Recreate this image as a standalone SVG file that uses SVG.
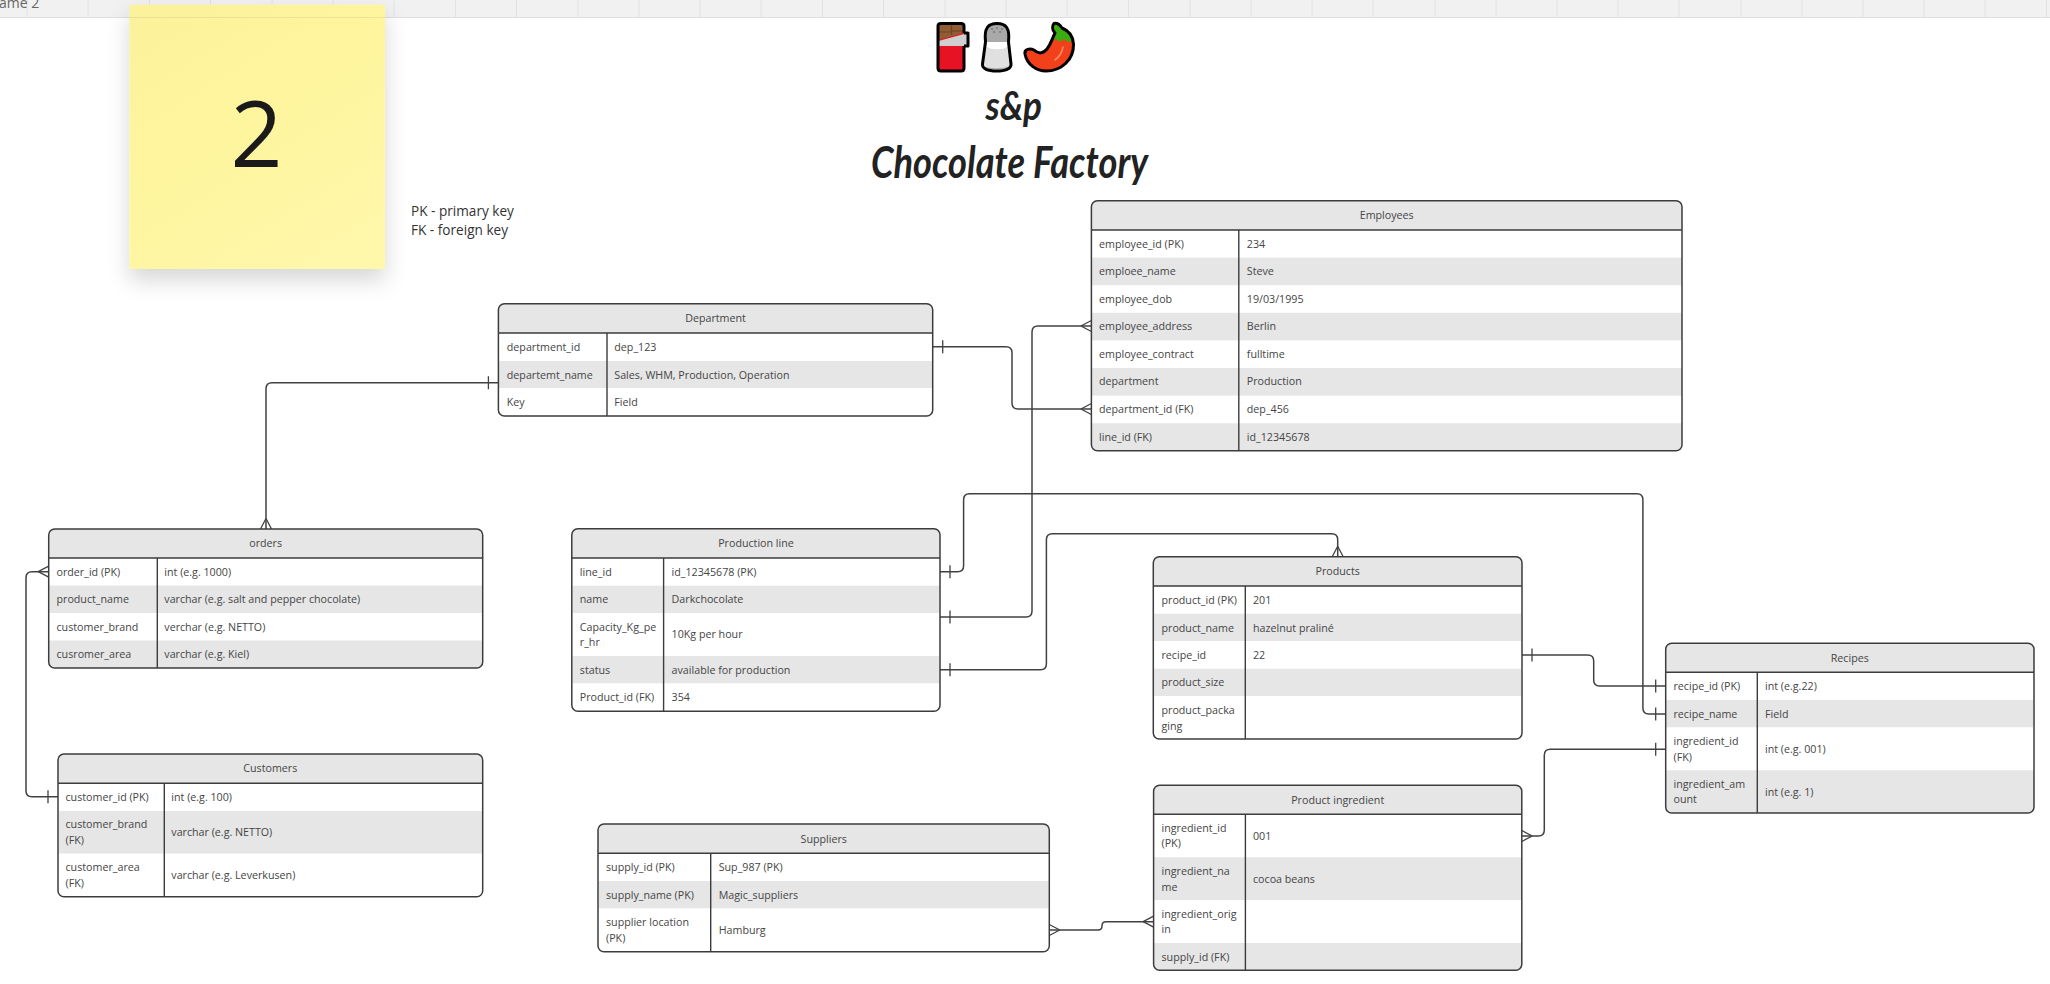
<svg xmlns="http://www.w3.org/2000/svg" width="2050" height="984" viewBox="0 0 2050 984">
<style>
text{font-family:"Open Sans","Noto Sans",sans-serif;font-size:10.7px;fill:#454545}
.h{text-anchor:middle}
.bd{fill:none;stroke:#3c3c3c;stroke-width:1.5}
.ln{stroke:#3c3c3c;stroke-width:1.4;fill:none}
.g{fill:#e6e6e6}
.c{fill:none;stroke:#414141;stroke-width:1.5}
.m{fill:none;stroke:#414141;stroke-width:1.3}
.grid{stroke:#e2e2e2;stroke-width:1}
.title{font-family:"Lato","Open Sans",sans-serif;font-style:italic;font-weight:700;fill:#222}
.k{stroke:#000;stroke-width:3;stroke-linejoin:round}
</style>
<defs>
<marker id="many" markerUnits="userSpaceOnUse" markerWidth="1" markerHeight="1" orient="auto-start-reverse" overflow="visible"><path class="m" d="M-10.5 0L0-5.5M-10.5 0L0 5.5"/></marker>
<marker id="one" markerUnits="userSpaceOnUse" markerWidth="1" markerHeight="1" orient="auto-start-reverse" overflow="visible"><path class="m" d="M-10-6.5V6.5"/></marker>
<linearGradient id="st" x1="0.2" y1="0" x2="0.8" y2="1"><stop offset="0" stop-color="#fcf29b"/><stop offset=".4" stop-color="#fff59e"/><stop offset="1" stop-color="#fff7aa"/></linearGradient>
<filter id="sh" x="-25%" y="-10%" width="150%" height="135%"><feDropShadow dx="0" dy="11" stdDeviation="11" flood-color="#000" flood-opacity=".16"/></filter>
</defs>
<rect width="2050" height="984" fill="#fff"/>
<g id="frame-bar">
<rect width="2050" height="17" fill="#f1f1f1"/>
<path class="grid" d="M27 0V17M88 0V17M149.500 0V17M210.500 0V17M272 0V17M333 0V17M394 0V17M455.500 0V17M516.500 0V17M578 0V17M639 0V17M700 0V17M761 0V17M822.500 0V17M883.500 0V17M945 0V17M1006 0V17M1067 0V17M1128.500 0V17M1190 0V17M1251 0V17M1312 0V17M1373 0V17M1435 0V17M1496 0V17M1557 0V17M1618 0V17M1679 0V17M1741 0V17M1802 0V17M1863 0V17M1924 0V17M1985 0V17M2046.500 0V17"/>
<path d="M0 17.500H2050" stroke="#dedede" stroke-width="1"/>
<text x="-1" y="8" style="font-size:14px;fill:#666">ame 2</text>
</g>
<g id="sticky">
<rect x="129.500" y="4.700" width="255.500" height="264.300" fill="url(#st)" filter="url(#sh)"/>
<path d="M129.500 17.500H385" stroke="#000" stroke-opacity=".07"/>
<text x="256.500" y="166.500" class="h" style="font-size:91px;fill:#1a1a1a">2</text>
</g>
<g id="legend">
<text x="411" y="216" style="font-size:13.6px;fill:#333">PK - primary key</text>
<text x="411" y="235" style="font-size:13.6px;fill:#333">FK - foreign key</text>
</g>
<g id="emoji">
<g id="emoji-chocolate">
<rect x="938" y="24" width="26" height="47" rx="3" fill="#e81225"/>
<path d="M938.500 24H963.500V33L938.500 40Z" fill="#915b34"/>
<path d="M951.500 24V35M938.500 32H951.500M951.500 31H963.500" stroke="#6e4225" stroke-width="1.200"/>
<path d="M938.500 41L966 33.500H968V46H938.500Z" fill="#cfcfcf"/>
<path d="M964 33H968V46H964M964 46V68Q964 71 961 71H941Q938 71 938 68V26Q938 23.500 941 23.500H961Q964 23.500 964 26V33" class="k" fill="none"/>
</g>
<g id="emoji-salt">
<path d="M985.500 42C984 28 988 23.500 997 23.500C1006 23.500 1010 28 1008.500 42L1011 64C1011.500 69 1005 71 996.500 71C988 71 982 69 982.500 64Z" fill="#e0e0e0"/>
<path d="M985.500 42C984 28 988 23.500 997 23.500C1006 23.500 1010 28 1008.500 42Z" fill="#a9a9a9"/>
<path d="M985.500 42H1008.500L1009 47H985Z" fill="#fff"/>
<ellipse cx="997" cy="46.500" rx="10" ry="2.800" fill="#fff"/>
<path d="M983 66C990 69 1003 69 1010 66L1010 69H984Z" fill="#a9a9a9"/>
<path d="M992 29h.1M997 28h.1M1002 29h.1M994 32h.1M1000 32h.1" stroke="#7c7c7c" stroke-width="2" stroke-linecap="round"/>
<path d="M985.500 42C984 28 988 23.500 997 23.500C1006 23.500 1010 28 1008.500 42L1011 64C1011.500 69 1005 71 996.500 71C988 71 982 69 982.500 64Z" class="k" fill="none"/>
</g>
<g id="emoji-chili">
<path d="M1054 23.500C1052 26 1052 30 1055 33C1052 39 1051 44 1047 49C1043 54 1038 54 1034 50C1030 48 1024 49 1025 54C1027 65 1037 71 1046 71C1061 71 1074 60 1073.500 44C1073 35 1067 30 1062 28C1060 25 1058 22.500 1054 23.500Z" fill="#f1401a"/>
<path d="M1054 23.500C1052 26 1052 30 1055 33C1053 36 1052.500 38 1052 41L1056 39L1060 42L1064 39L1068 42L1073 41C1071 34 1067 30 1062 28C1060 25 1058 22.500 1054 23.500Z" fill="#3bab12"/>
<path d="M1063 47C1062 53 1059 57 1055 60" stroke="#f78a6a" stroke-width="1.600" fill="none" stroke-linecap="round"/>
<path d="M1054 23.500C1052 26 1052 30 1055 33C1052 39 1051 44 1047 49C1043 54 1038 54 1034 50C1030 48 1024 49 1025 54C1027 65 1037 71 1046 71C1061 71 1074 60 1073.500 44C1073 35 1067 30 1062 28C1060 25 1058 22.500 1054 23.500Z" class="k" fill="none"/>
</g>
</g>
<g id="title">
<text x="985.500" y="120" class="title" style="font-size:40px" textLength="56.500" lengthAdjust="spacingAndGlyphs">s&amp;p</text>
<text x="871" y="178" class="title" style="font-size:44px" textLength="277" lengthAdjust="spacingAndGlyphs">Chocolate Factory</text>
</g>

<g id="connectors">
<path class="c" marker-start="url(#one)" marker-end="url(#many)" d="M498.400 382.700H272Q266 382.700 266 388.700V529"/>
<path class="c" marker-start="url(#one)" marker-end="url(#many)" d="M932.700 346.700H1006Q1012 346.700 1012 352.700V403Q1012 409 1018 409H1091.400"/>
<path class="c" marker-start="url(#one)" marker-end="url(#one)" d="M940 571.700H957.600Q963.600 571.700 963.600 565.700V499.700Q963.600 493.700 969.600 493.700H1636.900Q1642.900 493.700 1642.900 499.700V708Q1642.900 714 1648.900 714H1665.700"/>
<path class="c" marker-start="url(#one)" marker-end="url(#many)" d="M940 617H1026Q1032 617 1032 611V332Q1032 326 1038 326H1091.400"/>
<path class="c" marker-start="url(#one)" marker-end="url(#many)" d="M940 669.700H1040.400Q1046.400 669.700 1046.400 663.700V539.700Q1046.400 533.700 1052.400 533.700H1331.700Q1337.700 533.700 1337.700 539.700V556.700"/>
<path class="c" marker-start="url(#one)" marker-end="url(#one)" d="M1522 655H1587.700Q1593.700 655 1593.700 661V680Q1593.700 686 1599.700 686H1665.700"/>
<path class="c" marker-start="url(#many)" marker-end="url(#one)" d="M1521.800 836H1538.300Q1544.300 836 1544.300 830V755.300Q1544.300 749.300 1550.300 749.300H1665.700"/>
<path class="c" marker-start="url(#many)" marker-end="url(#many)" d="M1049.300 930H1098Q1102 930 1102 926V925.700Q1102 921.700 1106 921.700H1153.600"/>
<path class="c" marker-start="url(#one)" marker-end="url(#many)" d="M58 796.700H32Q26 796.700 26 790.700V577.700Q26 571.700 32 571.700H48.700"/>
</g>

<g id="department">
<path class="g" d="M498.400 333V309.700Q498.400 303.700 504.400 303.700H926.700Q932.700 303.700 932.700 309.700V333Z"/>
<rect class="g" x="499" y="361" width="433" height="27"/>
<rect class="bd" x="498.400" y="303.700" width="434.300" height="112.300" rx="6"/>
<path class="ln" d="M498.400 333H932.700M607 333V416"/>
<text class="h" x="715.500" y="322">Department</text>
<text x="506.800" y="351">department_id</text><text x="614.300" y="351">dep_123</text>
<text x="506.800" y="378.500">departemt_name</text><text x="614.300" y="378.500">Sales, WHM, Production, Operation</text>
<text x="506.800" y="406">Key</text><text x="614.300" y="406">Field</text>
</g>

<g id="employees">
<path class="g" d="M1091.400 230V206.700Q1091.400 200.700 1097.400 200.700H1676Q1682 200.700 1682 206.700V230Z"/>
<rect class="g" x="1092" y="257.600" width="590" height="27.600"/>
<rect class="g" x="1092" y="312.800" width="590" height="27.600"/>
<rect class="g" x="1092" y="368" width="590" height="27.600"/>
<path class="g" d="M1091.400 423.200H1682V444.700Q1682 450.700 1676 450.700H1097.400Q1091.400 450.700 1091.400 444.700Z"/>
<rect class="bd" x="1091.400" y="200.700" width="590.600" height="250" rx="6"/>
<path class="ln" d="M1091.400 230H1682M1238.800 230V450.700"/>
<text class="h" x="1386.700" y="219">Employees</text>
<text x="1099" y="248">employee_id (PK)</text><text x="1246.800" y="248">234</text>
<text x="1099" y="275.200">emploee_name</text><text x="1246.800" y="275.200">Steve</text>
<text x="1099" y="303">employee_dob</text><text x="1246.800" y="303">19/03/1995</text>
<text x="1099" y="330.200">employee_address</text><text x="1246.800" y="330.200">Berlin</text>
<text x="1099" y="358">employee_contract</text><text x="1246.800" y="358">fulltime</text>
<text x="1099" y="385.200">department</text><text x="1246.800" y="385.200">Production</text>
<text x="1099" y="413">department_id (FK)</text><text x="1246.800" y="413">dep_456</text>
<text x="1099" y="441">line_id (FK)</text><text x="1246.800" y="441">id_12345678</text>
</g>

<g id="orders">
<path class="g" d="M48.700 558V535Q48.700 529 54.700 529H476.700Q482.700 529 482.700 535V558Z"/>
<rect class="g" x="49.300" y="585.500" width="433" height="27.500"/>
<path class="g" d="M48.700 640.500H482.700V662Q482.700 668 476.700 668H54.700Q48.700 668 48.700 662Z"/>
<rect class="bd" x="48.700" y="529" width="434" height="139" rx="6"/>
<path class="ln" d="M48.700 558H482.700M157.300 558V668"/>
<text class="h" x="265.700" y="547">orders</text>
<text x="56.500" y="576">order_id (PK)</text><text x="164.300" y="576">int (e.g. 1000)</text>
<text x="56.500" y="603">product_name</text><text x="164.300" y="603">varchar (e.g. salt and pepper chocolate)</text>
<text x="56.500" y="631">customer_brand</text><text x="164.300" y="631">verchar (e.g. NETTO)</text>
<text x="56.500" y="658">cusromer_area</text><text x="164.300" y="658">varchar (e.g. Kiel)</text>
</g>

<g id="customers">
<path class="g" d="M58 783.300V760Q58 754 64 754H476.700Q482.700 754 482.700 760V783.300Z"/>
<rect class="g" x="58.600" y="811" width="423.500" height="42.500"/>
<rect class="bd" x="58" y="754" width="424.700" height="142.700" rx="6"/>
<path class="ln" d="M58 783.300H482.700M164.300 783.300V896.700"/>
<text class="h" x="270.300" y="772">Customers</text>
<text x="65.500" y="801">customer_id (PK)</text><text x="171.300" y="801">int (e.g. 100)</text>
<text x="65.500" y="828">customer_brand</text><text x="65.500" y="844">(FK)</text><text x="171.300" y="836">varchar (e.g. NETTO)</text>
<text x="65.500" y="871">customer_area</text><text x="65.500" y="886.500">(FK)</text><text x="171.300" y="879">varchar (e.g. Leverkusen)</text>
</g>

<g id="production-line">
<path class="g" d="M571.800 558V534.700Q571.800 528.700 577.800 528.700H934Q940 528.700 940 534.700V558Z"/>
<rect class="g" x="572.400" y="585.700" width="367" height="27.300"/>
<rect class="g" x="572.400" y="656" width="367" height="27.300"/>
<rect class="bd" x="571.800" y="528.700" width="368.200" height="182.600" rx="6"/>
<path class="ln" d="M571.800 558H940M663.600 558V711.300"/>
<text class="h" x="756" y="547">Production line</text>
<text x="579.800" y="576">line_id</text><text x="671.600" y="576">id_12345678 (PK)</text>
<text x="579.800" y="603">name</text><text x="671.600" y="603">Darkchocolate</text>
<text x="579.800" y="630.500">Capacity_Kg_pe</text><text x="579.800" y="646">r_hr</text><text x="671.600" y="638">10Kg per hour</text>
<text x="579.800" y="674">status</text><text x="671.600" y="674">available for production</text>
<text x="579.800" y="701">Product_id (FK)</text><text x="671.600" y="701">354</text>
</g>

<g id="products">
<path class="g" d="M1153.300 586V562.700Q1153.300 556.700 1159.300 556.700H1516Q1522 556.700 1522 562.700V586Z"/>
<rect class="g" x="1153.900" y="613.700" width="367.500" height="27.300"/>
<rect class="g" x="1153.900" y="668.700" width="367.500" height="27.300"/>
<rect class="bd" x="1153.300" y="556.700" width="368.700" height="182.300" rx="6"/>
<path class="ln" d="M1153.300 586H1522M1245.300 586V739"/>
<text class="h" x="1337.700" y="575">Products</text>
<text x="1161.500" y="603.500">product_id (PK)</text><text x="1253" y="603.500">201</text>
<text x="1161.500" y="631.500">product_name</text><text x="1253" y="631.500">hazelnut praliné</text>
<text x="1161.500" y="659">recipe_id</text><text x="1253" y="659">22</text>
<text x="1161.500" y="686">product_size</text>
<text x="1161.500" y="714">product_packa</text><text x="1161.500" y="730">ging</text>
</g>

<g id="recipes">
<path class="g" d="M1665.700 672.300V649.300Q1665.700 643.300 1671.700 643.300H2028Q2034 643.300 2034 649.300V672.300Z"/>
<rect class="g" x="1666.300" y="700" width="367" height="27.300"/>
<path class="g" d="M1665.700 770.300H2034V807Q2034 813 2028 813H1671.700Q1665.700 813 1665.700 807Z"/>
<rect class="bd" x="1665.700" y="643.300" width="368.300" height="169.700" rx="6"/>
<path class="ln" d="M1665.700 672.300H2034M1757.300 672.300V813"/>
<text class="h" x="1849.800" y="662">Recipes</text>
<text x="1673.500" y="690">recipe_id (PK)</text><text x="1765" y="690">int (e.g.22)</text>
<text x="1673.500" y="718">recipe_name</text><text x="1765" y="718">Field</text>
<text x="1673.500" y="745">ingredient_id</text><text x="1673.500" y="761">(FK)</text><text x="1765" y="753">int (e.g. 001)</text>
<text x="1673.500" y="788">ingredient_am</text><text x="1673.500" y="803">ount</text><text x="1765" y="796">int (e.g. 1)</text>
</g>

<g id="suppliers">
<path class="g" d="M598 853.300V830Q598 824 604 824H1043.300Q1049.300 824 1049.300 830V853.300Z"/>
<rect class="g" x="598.600" y="881" width="450" height="27.300"/>
<rect class="bd" x="598" y="824" width="451.300" height="127.700" rx="6"/>
<path class="ln" d="M598 853.300H1049.300M710.700 853.300V951.700"/>
<text class="h" x="823.700" y="843">Suppliers</text>
<text x="606" y="871">supply_id (PK)</text><text x="718.700" y="871">Sup_987 (PK)</text>
<text x="606" y="899">supply_name (PK)</text><text x="718.700" y="899">Magic_suppliers</text>
<text x="606" y="926">supplier location</text><text x="606" y="942">(PK)</text><text x="718.700" y="934">Hamburg</text>
</g>

<g id="product-ingredient">
<path class="g" d="M1153.600 814.300V791.300Q1153.600 785.300 1159.600 785.300H1515.800Q1521.800 785.300 1521.800 791.300V814.300Z"/>
<rect class="g" x="1154.200" y="857.300" width="367" height="42.700"/>
<path class="g" d="M1153.600 943H1521.800V964.300Q1521.800 970.300 1515.800 970.300H1159.600Q1153.600 970.300 1153.600 964.300Z"/>
<rect class="bd" x="1153.600" y="785.300" width="368.200" height="185" rx="6"/>
<path class="ln" d="M1153.600 814.300H1521.800M1245.400 814.300V970.300"/>
<text class="h" x="1337.700" y="804">Product ingredient</text>
<text x="1161.500" y="832">ingredient_id</text><text x="1161.500" y="847">(PK)</text><text x="1253" y="840">001</text>
<text x="1161.500" y="875">ingredient_na</text><text x="1161.500" y="890.500">me</text><text x="1253" y="883">cocoa beans</text>
<text x="1161.500" y="918">ingredient_orig</text><text x="1161.500" y="933">in</text>
<text x="1161.500" y="961">supply_id (FK)</text>
</g>
</svg>
